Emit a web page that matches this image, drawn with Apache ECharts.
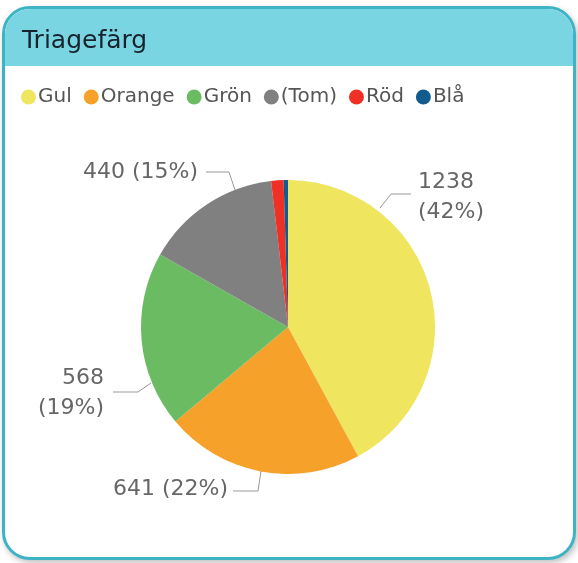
<!DOCTYPE html>
<html>
<head>
<meta charset="utf-8">
<script src="https://cdn.jsdelivr.net/npm/echarts@6/dist/echarts.min.js"></script>
<style>
  html, body { margin: 0; padding: 0; background: #fff; }
  .wrap { position: relative; width: 578px; height: 563px; overflow: hidden; }
  .card {
    position: absolute; left: 2px; top: 6px; width: 568px; height: 548px;
    border: 3px solid #3cb4c5; border-radius: 28px; background: #fff;
    box-shadow: 2px 3px 6px rgba(0,0,0,0.25); overflow: hidden;
  }
  .card .head { height: 57px; background: #7ad5e3; }
  #chart { position: absolute; left: 0; top: 0; width: 578px; height: 563px; }
</style>
</head>
<body>
<div class="wrap">
  <div class="card"><div class="head"></div></div>
  <div id="chart"></div>
</div>
<script>
// triagefärg, antal
const categories = ['Gul', 'Orange', 'Grön', '(Tom)', 'Röd', 'Blå']
const values = [1238, 641, 568, 440, 40, 14]
const colors = ['#efe55e', '#f5a12a', '#6bbb63', '#808080', '#ee3124', '#125b8e']
const twoLine = ['Gul', 'Grön'] // dessa etiketter bryts på två rader

// etikettplacering (som i Power BI), text + linjepunkter
const labelPos = {
    Gul: { x: 418, y: 197, align: 'left', line: [[380, 208], [391, 194], [411, 194]] },
    Orange: { x: 228, y: 489, align: 'right', line: [[261, 471], [258, 491], [233, 491]] },
    'Grön': { x: 104, y: 393, align: 'right', line: [[151, 383], [138, 392], [113, 392]] },
    '(Tom)': { x: 198, y: 172, align: 'right', line: [[235, 190], [229, 172], [206, 172]] }
}

const chart = echarts.init(document.getElementById('chart'))
const option = {
    animation: false,
    color: colors,
    title: {
        text: 'Triagefärg',
        left: 22,
        top: 29,
        padding: 0,
        textStyle: { fontFamily: 'DejaVu Sans', fontSize: 25, fontWeight: 'normal', color: '#17232d' }
    },
    legend: {
        data: categories,
        left: 21,
        top: 87,
        padding: 0,
        icon: 'circle',
        itemWidth: 15,
        itemHeight: 15,
        itemGap: 12,
        textStyle: { fontFamily: 'DejaVu Sans', fontSize: 20, color: '#555', padding: [0, 0, 0, -3] }
    },
    series: [
        {
            name: 'Triagefärg',
            type: 'pie',
            center: [288, 327],
            radius: 147,
            startAngle: 90,
            clockwise: true,
            avoidLabelOverlap: false,
            emphasis: { disabled: true },
            label: {
                show: true,
                position: 'outside',
                fontFamily: 'DejaVu Sans',
                fontSize: 22,
                lineHeight: 30,
                color: '#666',
                formatter: p => {
                    const pct = Math.round(p.percent) + '%'
                    return twoLine.indexOf(p.name) >= 0 ? p.value + '\n(' + pct + ')' : p.value + ' (' + pct + ')'
                }
            },
            labelLine: { show: true, smooth: false, lineStyle: { color: '#999', width: 1 } },
            labelLayout: params => {
                const pos = labelPos[categories[params.dataIndex]]
                if (!pos) return {}
                return { x: pos.x, y: pos.y, align: pos.align, verticalAlign: 'middle', labelLinePoints: pos.line }
            },
            data: categories.map((c, i) => ({
                name: c,
                value: values[i],
                label: { show: !!labelPos[c] },
                labelLine: { show: !!labelPos[c] }
            }))
        }
    ]
}
chart.setOption(option)
</script>
</body>
</html>
